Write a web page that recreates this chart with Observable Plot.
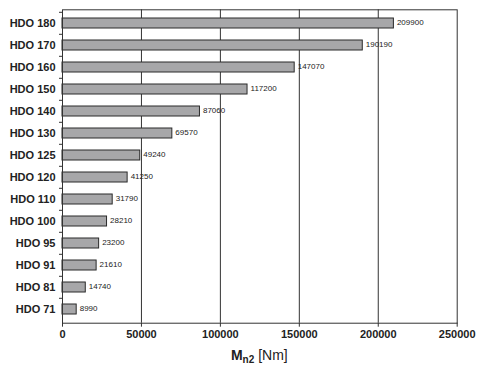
<!DOCTYPE html>
<html>
<head>
<meta charset="utf-8">
<script src="https://cdn.jsdelivr.net/npm/d3@7"></script>
<script src="https://cdn.jsdelivr.net/npm/@observablehq/plot@0.6"></script>
<style>
  body { margin: 0; background: #fff; font-family: "Liberation Sans", Arial, sans-serif; }
  #chart { width: 498px; }
  #xlabel { width: 394.7px; margin-left: 62px; text-align: center; font-size: 14px; color: #222; height: 24px; line-height: 20px; }
  #xlabel b sub { font-size: 10px; vertical-align: -3px; }
</style>
</head>
<body>
<div id="chart"></div>
<div id="xlabel"><b>M<sub>n2</sub></b> [Nm]</div>
<script>
const categories = ["HDO 180","HDO 170","HDO 160","HDO 150","HDO 140","HDO 130","HDO 125","HDO 120","HDO 110","HDO 100","HDO 95","HDO 91","HDO 81","HDO 71"];
const values = [209900,190190,147070,117200,87060,69570,49240,41250,31790,28210,23200,21610,14740,8990];
const xTicks = [0,50000,100000,150000,200000,250000];
const gridTicks = [50000,100000,150000,200000];

const data = categories.map((c, i) => ({name: c, value: values[i]}));

const W = 498, H = 345;
const mTop = 9.3, mBottom = 22.3, mLeft = 62, mRight = 41.3;
const step = (H - mTop - mBottom) / categories.length;

const plot = Plot.plot({
  width: W,
  height: H,
  marginTop: mTop,
  marginBottom: mBottom,
  marginLeft: mLeft,
  marginRight: mRight,
  style: {fontFamily: "'Liberation Sans', Arial, sans-serif", background: "#fff", color: "#222"},
  x: {domain: [0, 250000]},
  y: {domain: categories, paddingInner: 0.55, paddingOuter: 0.275, align: 0.5},
  marks: [
    Plot.gridX(gridTicks, {stroke: "#333", strokeOpacity: 1, strokeWidth: 1}),
    Plot.barX(data, {y: "name", x: "value", fill: "#a7a7a9", stroke: "#2a2a2a", strokeWidth: 1}),
    Plot.text(data, {y: "name", x: "value", text: d => String(d.value), textAnchor: "start", dx: 3, dy: -1, fontSize: 8, fill: "#222"}),
    Plot.axisY({tickSize: 0, tickPadding: 7, fontSize: 11, fontWeight: "bold", label: null}),
    Plot.axisY({tickSize: 3, tickFormat: () => "", dy: -step / 2, label: null, stroke: "#333"}),
    Plot.axisX({ticks: xTicks, tickSize: 4, tickPadding: 3, fontSize: 11, fontWeight: "bold", label: null, tickFormat: d => String(d), stroke: "#333"}),
    Plot.frame({stroke: "#333", strokeWidth: 1})
  ]
});
document.getElementById("chart").appendChild(plot);
</script>
</body>
</html>
